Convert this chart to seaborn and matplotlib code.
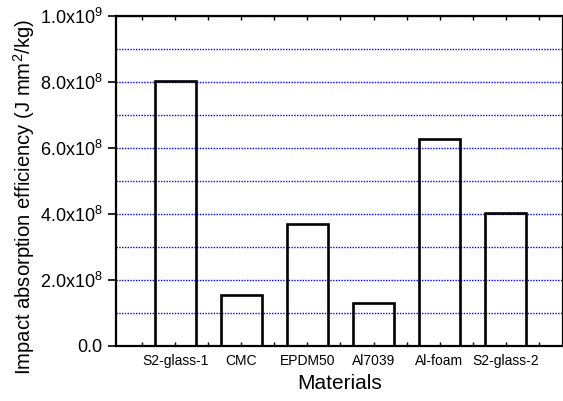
import matplotlib
matplotlib.use("Agg")
import matplotlib.pyplot as plt
import seaborn as sns
import pandas as pd
from matplotlib.ticker import FuncFormatter, MultipleLocator

materials = ["S2-glass-1", "CMC", "EPDM50", "Al7039", "Al-foam", "S2-glass-2"]
efficiency = [8.03e8, 1.55e8, 3.69e8, 1.30e8, 6.26e8, 4.03e8]
ytick_labels = {0: "0.0", 2: "2.0x10^{8}", 4: "4.0x10^{8}", 6: "6.0x10^{8}",
                8: "8.0x10^{8}", 10: "1.0x10^{9}"}

sns.set_style("ticks")
plt.rcParams["font.family"] = ["Liberation Sans", "DejaVu Sans"]
plt.rcParams["mathtext.fontset"] = "custom"
plt.rcParams["mathtext.rm"] = "Liberation Sans"
plt.rcParams["mathtext.it"] = "Liberation Sans:italic"
plt.rcParams["text.color"] = "black"
plt.rcParams["axes.labelcolor"] = "black"
plt.rcParams["xtick.color"] = "black"
plt.rcParams["ytick.color"] = "black"

df = pd.DataFrame({"Materials": materials, "Efficiency": efficiency})

fig = plt.figure(figsize=(5.63, 4.01), dpi=100)
ax = fig.add_axes([116 / 563, 55 / 401, 447 / 563, 330 / 401])

sns.barplot(data=df, x="Materials", y="Efficiency", ax=ax, width=0.62,
            fill=False, edgecolor="black", linewidth=1.9, zorder=3)

ax.set_xlim(-0.9, 5.87)
ax.set_ylim(0, 1e9)

ax.yaxis.set_major_locator(MultipleLocator(2e8))
ax.yaxis.set_minor_locator(MultipleLocator(1e8))

def fmt(v, pos):
    k = int(round(v / 1e8))
    s = ytick_labels.get(k, "")
    if k == 0:
        return "0.0"
    return r"$\mathregular{" + s + "}$"

ax.yaxis.set_major_formatter(FuncFormatter(fmt))
ax.yaxis.grid(True, which="both", color="blue", linestyle=(0, (1, 1)), linewidth=1.0, zorder=0)
ax.set_axisbelow(True)

ax.tick_params(axis="y", which="major", direction="out", length=6, width=1.2,
               labelsize=13, right=True, labelcolor="black")
ax.tick_params(axis="y", which="minor", left=False, right=False)
ax.tick_params(axis="x", which="major", direction="in", length=3, width=1,
               labelsize=10, top=True, pad=6, labelcolor="black")
ax.xaxis.set_minor_locator(MultipleLocator(0.5))
ax.tick_params(axis="x", which="minor", direction="in", length=3, width=1,
               top=True, bottom=True)

for side in ["left", "bottom", "top", "right"]:
    ax.spines[side].set_visible(True)
    ax.spines[side].set_linewidth(1.6)
    ax.spines[side].set_color("black")

ax.set_xlabel("Materials", fontsize=15, labelpad=4, color="black")
ax.set_ylabel(r"Impact absorption efficiency (J mm$^\mathregular{2}$/kg)", fontsize=14.6,
              color="black")
ax.yaxis.set_label_coords(-0.177, 0.453)

fig.savefig("out.png", dpi=100)
